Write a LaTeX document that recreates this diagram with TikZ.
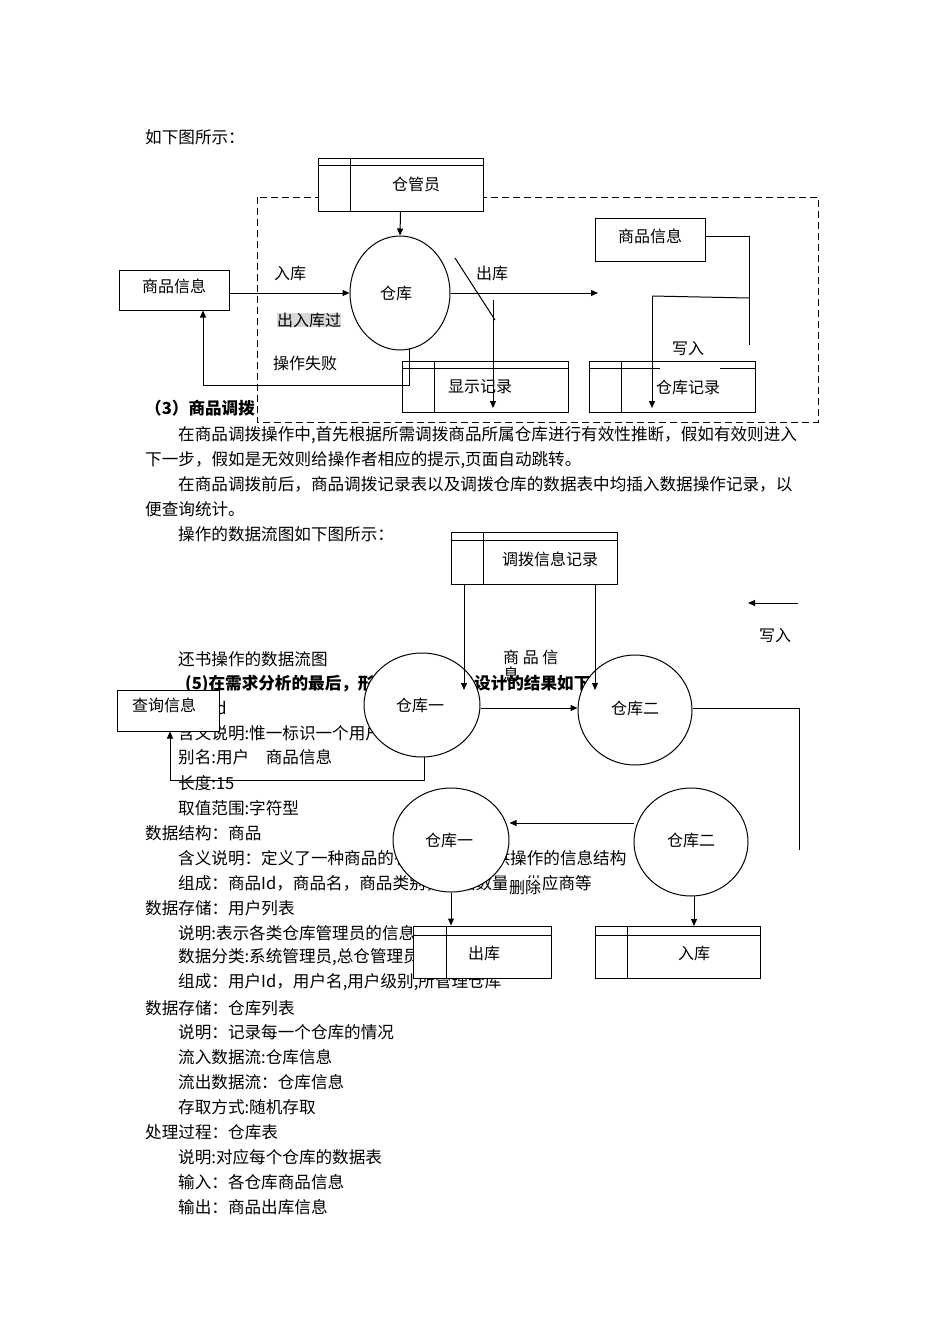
\documentclass[tikz,border=0pt]{standalone}
\usepackage{fontspec}
\setmainfont{Noto Sans CJK SC}
\usetikzlibrary{arrows.meta,shapes.geometric}
\begin{document}
\begin{tikzpicture}[x=1pt,y=-1pt,
  txt/.style={anchor=west,inner sep=0pt,font=\fontsize{16.6}{18}\selectfont},
  btxt/.style={txt,font=\fontsize{16.6}{18}\selectfont\bfseries},
  lbl/.style={inner sep=0pt,font=\fontsize{16}{18}\selectfont},
  proc/.style={draw,fill=white,ellipse,line width=1pt},
  ln/.style={line width=1pt},
  arr/.style={ln,-{Triangle[length=7pt,width=6pt]}},
  ent/.style={draw,fill=white,line width=1pt}]
\useasboundingbox (0,0) rectangle (950,1344);
\fill[white] (0,0) rectangle (950,1344);
% ---------- body text ----------
\node[txt] (t0) at (145,137) {如下图所示：};
\node[btxt] (t1) at (145,408) {（3）商品调拨};
\node[txt] at (178,435) {在商品调拨操作中,首先根据所需调拨商品所属仓库进行有效性推断，假如有效则进入};
\node[txt] at (145,460) {下一步，假如是无效则给操作者相应的提示,页面自动跳转。};
\node[txt] at (178,484) {在商品调拨前后，商品调拨记录表以及调拨仓库的数据表中均插入数据操作记录，以};
\node[txt] at (145,509) {便查询统计。};
\node[txt] at (178,534) {操作的数据流图如下图所示：};
\node[txt] at (178,659) {还书操作的数据流图};
\node[btxt] at (185,684) {(5)在需求分析的最后，形成的数据字典设计的结果如下：};
\node[txt] at (178,708) {用户Id};
\node[txt] at (178,733) {含义说明:惟一标识一个用户};
\node[txt] at (178,757) {别名:用户\quad 商品信息};
\node[txt] at (178,783) {长度:15};
\node[txt] at (178,808) {取值范围:字符型};
\node[txt] at (145,833) {数据结构：商品};
\node[txt] at (178,858) {含义说明：定义了一种商品的有关信息，是供操作的信息结构};
\node[txt] at (178,883) {组成：商品Id，商品名，商品类别，商品数量，供应商等};
\node[txt] at (145,908) {数据存储：用户列表};
\node[txt] at (178,933) {说明:表示各类仓库管理员的信息};
\node[txt] at (178,957) {数据分类:系统管理员,总仓管理员,分仓管理员};
\node[txt] at (178,982) {组成：用户Id，用户名,用户级别,所管理仓库};
\node[txt] at (145,1008) {数据存储：仓库列表};
\node[txt] at (178,1032) {说明：记录每一个仓库的情况};
\node[txt] at (178,1057) {流入数据流:仓库信息};
\node[txt] at (178,1082) {流出数据流：仓库信息};
\node[txt] at (178,1107) {存取方式:随机存取};
\node[txt] at (145,1132) {处理过程：仓库表};
\node[txt] at (178,1157) {说明:对应每个仓库的数据表};
\node[txt] at (178,1182) {输入：各仓库商品信息};
\node[txt] at (178,1207) {输出：商品出库信息};
% ---------- diagram 1 ----------
\fill[white] (259,390) rectangle (816,420);
\draw[ln,dashed,dash pattern=on 7pt off 4pt] (257,197) rectangle (818,422);
\node[ent,minimum width=165pt,minimum height=53pt] (gly) at (400.5,184.5) {};
\draw[ln] (318,165) -- (483,165) (350,158) -- (350,211);
\node[lbl] at (416,184) {仓管员};
\node[proc,minimum width=100pt,minimum height=114pt] (ck) at (400,293) {};
\node[lbl] at (396,293) {仓库};
\node[ent,minimum width=110pt,minimum height=40pt] (spl) at (174,290) {};
\node[lbl] at (174,286) {商品信息};
\node[ent,minimum width=110pt,minimum height=43pt] (spr) at (650,239.5) {};
\node[lbl] at (650,236) {商品信息};
\draw[arr] (gly.south) -- (ck.north);
\draw[arr] (spl.east |- 0,293) -- (ck.west);
\node[lbl] at (290,273) {入库};
\node[lbl] at (492,273) {出库};
\node[lbl,fill=black!15,anchor=west] at (277,320) {出入库过};
\node[lbl] at (305,363) {操作失败};
\coordinate (c1) at (598,293);
\draw[arr] (ck.east) -- (c1);
\node[ent,minimum width=166pt,minimum height=51pt] (xs) at (485,386.5) {};
\draw[ln] (402,368) -- (568,368) (434,361) -- (434,412);
\node[lbl] at (480,387) {显示记录};
\node[ent,minimum width=166pt,minimum height=51pt] (cj) at (672,386.5) {};
\draw[ln] (621,361) -- (621,412) (589,368) -- (660,368) (720,368) -- (755,368);
\node[lbl] at (688,387) {仓库记录};
\node[lbl] at (688,349) {写入};
\coordinate (d1) at (455,258); \coordinate (d2) at (495,320);
\draw[ln] (d1) -- (d2);
\coordinate (a1) at (493,300); \coordinate (a2) at (493,408);
\draw[arr] (a1) -- (a2);
\coordinate (r1) at (706,236); \coordinate (r2) at (749,236); \coordinate (r3) at (749,345);
\draw[ln] (r1) -- (r2) -- (r3);
\coordinate (q1) at (652,296); \coordinate (q2) at (749,298);
\draw[ln] (q1) -- (q2);
\coordinate (q3) at (652,408);
\draw[arr] (q1) -- (q3);
\coordinate (f1) at (409,385); \coordinate (f2) at (203,385);
\draw[arr] (409,348) -- (f1) -- (f2) -- (spl.south -| f2);
% ---------- diagram 2 ----------
\node[ent,minimum width=166pt,minimum height=52pt] (db) at (534,558) {};
\draw[ln] (451,540) -- (617,540) (483,532) -- (483,584);
\node[lbl] at (550,559) {调拨信息记录};
\coordinate (w1) at (798,603); \coordinate (w2) at (748,603);
\draw[arr] (w1) -- (w2);
\node[lbl] at (775,636) {写入};
\node[lbl,anchor=west] at (503,657) {商 品 信};
\node[lbl,anchor=west] at (503,674) {息};
\node[proc,minimum width=116pt,minimum height=104pt] (k1) at (422,705) {};
\node[lbl] at (420,705) {仓库一};
\node[proc,minimum width=114pt,minimum height=110pt] (k2) at (635,710) {};
\node[lbl] at (635,708) {仓库二};
\draw[arr] (464,584) -- (464,690);
\draw[arr] (595,584) -- (595,690);
\draw[arr] (k1.east |- 0,708) -- (k2.west |- 0,708);
\coordinate (e1) at (799,708); \coordinate (e2) at (799,850);
\draw[ln] (k2.east |- 0,708) -- (e1) -- (e2);
\node[ent,minimum width=102pt,minimum height=41pt] (cx) at (168,710.5) {};
\node[lbl] at (164,705) {查询信息};
\coordinate (g1) at (424,780); \coordinate (g2) at (170,780);
\draw[arr] (424,757) -- (g1) -- (g2) -- (cx.south -| g2);
\node[proc,minimum width=116pt,minimum height=104pt] (k3) at (451,840) {};
\node[lbl] at (449,840) {仓库一};
\node[proc,minimum width=114pt,minimum height=108pt] (k4) at (691,842) {};
\node[lbl] at (691,840) {仓库二};
\draw[arr] (k4.west |- 0,823) -- (k3.east |- 0,823);
\node[lbl,fill=white,inner sep=2pt] at (525,887) {删除};
\node[ent,minimum width=138pt,minimum height=52pt] (ok) at (482,952) {};
\draw[ln] (413,935) -- (551,935) (446,926) -- (446,978);
\node[lbl] at (484,953) {出库};
\node[ent,minimum width=165pt,minimum height=52pt] (ik) at (677.5,952) {};
\draw[ln] (595,935) -- (760,935) (627,926) -- (627,978);
\node[lbl] at (694,953) {入库};
\draw[arr] (k3.south) -- (ok.north -| k3.south);
\draw[arr] (694,896) -- (694,926);
\end{tikzpicture}
\end{document}
